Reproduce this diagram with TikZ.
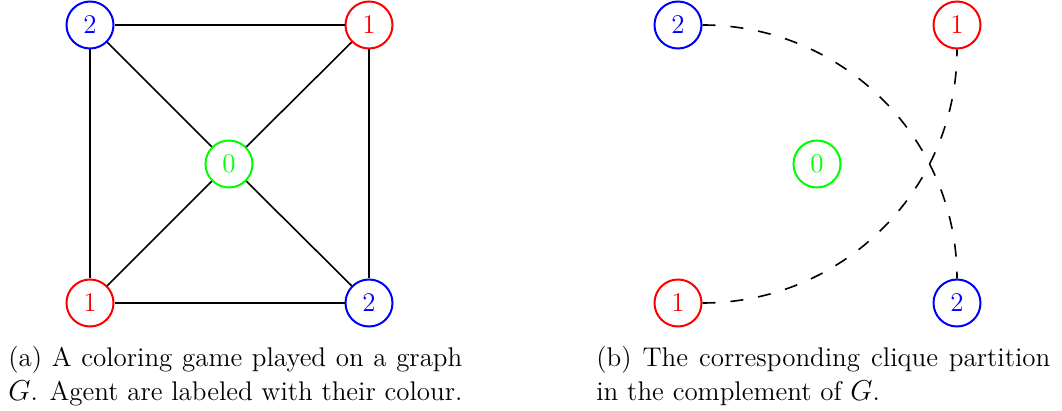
\documentclass[tikz,border=0pt]{standalone}
\begin{document}
\begin{tikzpicture}[x=0.5pt,y=-0.5pt,
  vert/.style={circle,draw,line width=1pt,minimum size=23.5pt,inner sep=0pt,font=\fontsize{13.5}{17}\selectfont},
  bl/.style={vert,draw=blue,text=blue},
  rd/.style={vert,draw=red,text=red},
  gr/.style={vert,draw=green,text=green},
  gedge/.style={line width=0.8pt},
  dedge/.style={line width=0.8pt,dash pattern=on 6.5pt off 7.5pt},
  capbox/.style={anchor=base west,inner sep=0pt,text width=227pt,align=justify,font=\fontsize{13.5}{17}\selectfont}]
\useasboundingbox (0,0) rectangle (1062,411);
% (a)
\node[bl] (a2t) at (90,25) {2};
\node[rd] (a1t) at (369,25) {1};
\node[gr] (a0) at (229,164) {0};
\node[rd] (a1b) at (90,303) {1};
\node[bl] (a2b) at (369,303) {2};
\draw[gedge] (a2t) -- (a1t);
\draw[gedge] (a2t) -- (a1b);
\draw[gedge] (a2t) -- (a0);
\draw[gedge] (a1t) -- (a0);
\draw[gedge] (a1t) -- (a2b);
\draw[gedge] (a0) -- (a1b);
\draw[gedge] (a0) -- (a2b);
\draw[gedge] (a1b) -- (a2b);
% (b)
\node[bl] (b2t) at (678,25) {2};
\node[rd] (b1t) at (957,25) {1};
\node[gr] (b0) at (817,164) {0};
\node[rd] (b1b) at (678,303) {1};
\node[bl] (b2b) at (957,303) {2};
\draw[dedge] (b2t.east) to[out=0,in=90] (b2b.north);
\draw[dedge] (b1b.east) to[out=0,in=-90] (b1t.south);
% captions
\node[capbox] (ca) at (8,367) {(a) A coloring game played on a graph\linebreak $G$. Agent are labeled with their colour.};
\node[capbox] (cb) at (596,367) {(b) The corresponding clique partition\linebreak in the complement of $G$.};
\end{tikzpicture}
\end{document}
